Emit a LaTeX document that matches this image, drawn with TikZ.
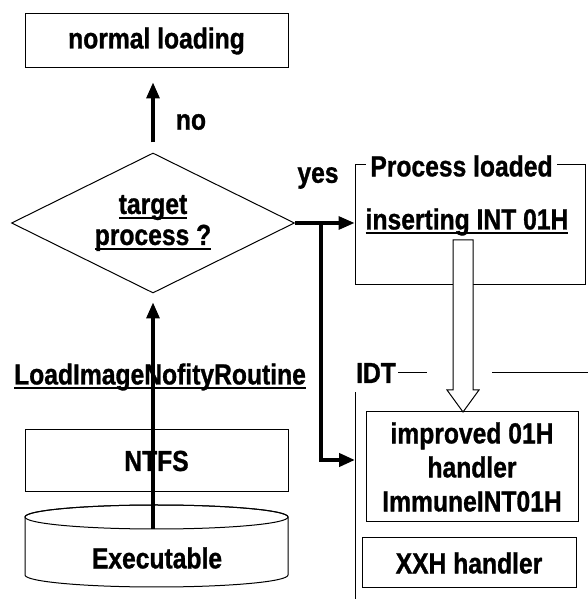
\documentclass[tikz,border=0pt]{standalone}
\usepackage{fontspec}
\setmainfont{Liberation Sans}[FakeStretch=0.85, BoldFeatures={FakeBold=1}]
\usepackage{tikz}
\usetikzlibrary{arrows.meta,shapes.geometric,positioning,calc}
\newcommand{\ulin}[1]{\setbox0\hbox{#1}\leavevmode\rlap{\rule[-5pt]{\wd0}{2pt}}\box0}

\begin{document}
\begin{tikzpicture}[
			x = 1pt, y = 1pt,
			every node/.style = {font=\fontsize{29}{34}\selectfont\bfseries, inner sep=0pt},
			box/.style = {draw, line width=1pt},
			>={Triangle[length=16pt,width=13pt]},
			flow/.style = {->, line width=3.2pt},
			]

			\useasboundingbox (0,0) rectangle (588,599);

			\node[box, minimum width=263pt, minimum height=54pt] (norm) at (156.5,558) {normal loading};
			\node[box, diamond, aspect=2, minimum width=283pt, minimum height=140pt, align=center,
				font=\fontsize{29}{31}\selectfont\bfseries] (target) at (153,376) {\ulin{target}\\\ulin{process ?}};
			\node (nolbl) at (191,477) {no};
			\node (yeslbl) at (318,421) {yes};

			\node[box, minimum width=230pt, minimum height=120pt] (proc) at (470,374) {};
			\node[fill=white, inner xsep=4pt] (proclbl) at (461.5,433) {Process loaded};
			\node (ins) at (467,377) {\ulin{inserting INT 01H}};

			\node (idt) at (376,226) {IDT};
			\draw[line width=1pt] (355,0) -- (355,207);
			\draw[line width=1pt] ([xshift=2pt]idt.east) -- (427,226);
			\draw[line width=1pt] (492,226) -- (588,226);
			\coordinate (idtin) at (355,139);

			\node[box, minimum width=212pt, minimum height=110pt, align=center] (imp) at (472,132) {improved 01H\\handler\\ImmuneINT01H};
			\node[box, minimum width=214pt, minimum height=50pt] (xxh) at (469,36) {XXH handler};

			\draw[line width=1pt, fill=white] (453,359) -- (453,209) -- (447,209) -- (463,187)
				-- (479,209) -- (473,209) -- (473,359) -- cycle;

			\draw[line width=1pt, fill=white] (25,24) -- (25,82) arc[start angle=180, end angle=0, x radius=131.5, y radius=12]
				-- (288,24) arc[start angle=0, end angle=-180, x radius=131.5, y radius=12];
			\draw[line width=1pt] (156.5,82) ellipse[x radius=131.5, y radius=12];
			\coordinate (exetop) at (153,70);
			\node (exe) at (157,41) {Executable};

			\node (notify) at (160,222) {\ulin{LoadImageNofityRoutine}};
			\node[box, minimum width=263pt, minimum height=62pt] (ntfs) at (156.5,138) {NTFS};

			\draw[flow] (exetop) -- ($(target.south)+(0,-9)$);
			\draw[flow, shorten <=10pt, shorten >=14pt] (target.north) -- (target.north |- norm.south);
			\draw[flow] (target.east) -- (proc.west |- target.east);
			\draw[flow, line width=4pt] ([xshift=26pt]target.east) |- (idtin);

		\end{tikzpicture}
\end{document}
